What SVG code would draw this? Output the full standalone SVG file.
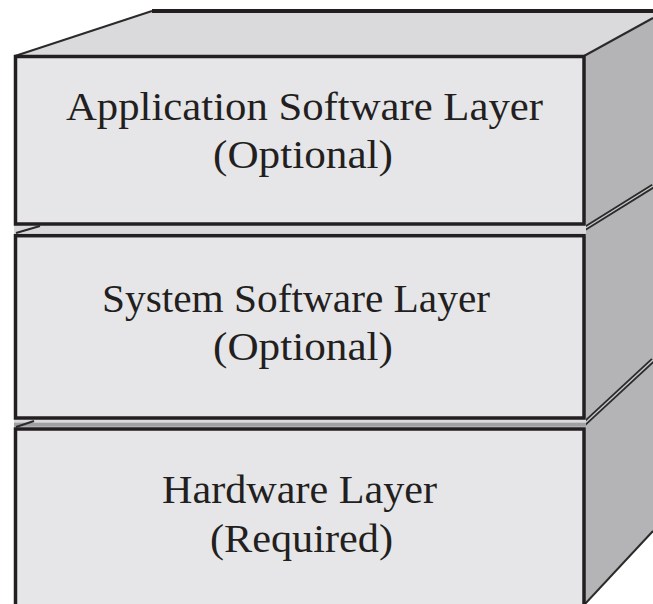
<svg xmlns="http://www.w3.org/2000/svg" width="653" height="604" viewBox="0 0 653 604">
<style>
.front{fill:#e6e6e8;stroke:#231f20;stroke-width:3.5}
.topface{fill:#dadadc}
.side{fill:#b4b4b6}
.thin{stroke:#2a2a2a;stroke-width:2;fill:none}
.dbl{stroke:#2a2a2a;stroke-width:5;fill:none}
.dbl-in{stroke:#c8c8ca;stroke-width:1.4;fill:none}
.lbl{font-family:"Liberation Serif","Times New Roman",serif;font-size:40px;fill:#231f20;text-anchor:middle}
</style>
<rect width="653" height="604" fill="#ffffff"/>
<g id="box-shell">
  <polygon class="topface" points="152,11 653,11 653,18 584,56 15,56"/>
  <line x1="152" y1="11" x2="653" y2="11" stroke="#231f20" stroke-width="4"/>
  <line class="thin" x1="15" y1="56" x2="152" y2="11"/>
  <polygon class="side" points="584,56 653,18 653,531 585,604 584,604"/>
  <line class="thin" x1="584" y1="56" x2="653" y2="18"/>
  <line class="thin" x1="653" y1="531" x2="585" y2="604"/>
  <line class="dbl" x1="584" y1="229" x2="653" y2="186"/>
  <line class="dbl-in" x1="584" y1="229" x2="653" y2="186"/>
  <line class="dbl" x1="584" y1="424" x2="653" y2="360"/>
  <line class="dbl-in" x1="584" y1="424" x2="653" y2="360"/>
  <rect x="14" y="224" width="572" height="12" fill="#d9d9db"/>
  <line class="thin" x1="16" y1="233" x2="40" y2="226"/>
  <rect x="14" y="418" width="572" height="11" fill="#dadadc"/>
  <rect x="14" y="422.7" width="572" height="4" fill="#a0a0a2"/>
  <line class="thin" x1="16" y1="427" x2="34" y2="421"/>
</g>
<g id="application-layer">
  <rect class="front" x="15.5" y="56.5" width="568.5" height="167.5"/>
  <text class="lbl" x="304.5" y="120" textLength="477" lengthAdjust="spacingAndGlyphs">Application Software Layer</text>
  <text class="lbl" x="303" y="168" textLength="180" lengthAdjust="spacingAndGlyphs">(Optional)</text>
</g>
<g id="system-layer">
  <rect class="front" x="15.5" y="235.7" width="568.5" height="182.3"/>
  <text class="lbl" x="296" y="312" textLength="388" lengthAdjust="spacingAndGlyphs">System Software Layer</text>
  <text class="lbl" x="303" y="360" textLength="180" lengthAdjust="spacingAndGlyphs">(Optional)</text>
</g>
<g id="hardware-layer">
  <rect class="front" x="15.5" y="429" width="568.5" height="185"/>
  <text class="lbl" x="299.5" y="503" textLength="275" lengthAdjust="spacingAndGlyphs">Hardware Layer</text>
  <text class="lbl" x="301.5" y="552" textLength="183" lengthAdjust="spacingAndGlyphs">(Required)</text>
</g>
<g id="connectors"/>
</svg>
